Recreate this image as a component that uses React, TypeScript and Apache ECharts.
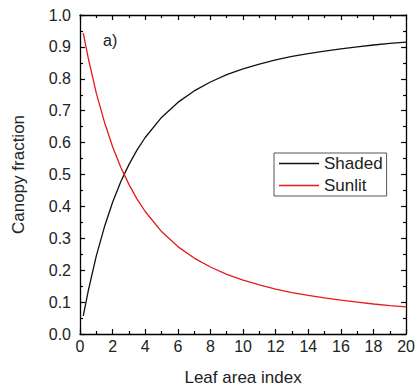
import React, { useEffect, useRef } from "react";
import * as echarts from "echarts";

const lai = [0.2, 0.5, 1, 1.5, 2, 2.5, 3, 3.5, 4, 5, 6, 7, 8, 9, 10, 11, 12, 13, 14, 15, 16, 17, 18, 19, 20];
const shaded = [0.057, 0.134, 0.245, 0.336, 0.413, 0.477, 0.531, 0.577, 0.616, 0.679, 0.726, 0.762, 0.790, 0.813, 0.831, 0.846, 0.859, 0.870, 0.879, 0.887, 0.894, 0.900, 0.906, 0.911, 0.915];
const sunlit = [0.943, 0.866, 0.755, 0.664, 0.587, 0.523, 0.469, 0.423, 0.384, 0.321, 0.274, 0.238, 0.210, 0.187, 0.169, 0.154, 0.141, 0.130, 0.121, 0.113, 0.106, 0.100, 0.094, 0.089, 0.085];
const seriesNames = ["Shaded", "Sunlit"];
const panelLabel = "a)";
const xTitle = "Leaf area index";
const yTitle = "Canopy fraction";

const FONT = "'Liberation Sans', Arial, sans-serif";
const TXT = "#222";

export default function App() {
  const ref = useRef<HTMLDivElement>(null);
  useEffect(() => {
    if (!ref.current) return;
    const chart = echarts.init(ref.current, undefined, { renderer: "svg" });
    const axisLine = { show: true, onZero: false, lineStyle: { color: "#000", width: 1.3 } };
    const axisTick = { show: true, inside: true, length: 5, lineStyle: { color: "#000", width: 1.2 } };
    const minorTick = { show: true, splitNumber: 2, length: 3, lineStyle: { color: "#000", width: 1.2 } };
    chart.setOption({
      animation: false,
      textStyle: { fontFamily: FONT },
      grid: { left: 80, right: 10, top: 15, bottom: 55, containLabel: false },
      xAxis: [
        {
          type: "value", min: 0, max: 20, interval: 2, position: "bottom",
          axisLine, axisTick, minorTick,
          splitLine: { show: false },
          axisLabel: { color: TXT, fontSize: 16, fontFamily: FONT, margin: 4 },
          name: xTitle, nameLocation: "middle", nameGap: 35,
          nameTextStyle: { color: TXT, fontSize: 17, fontFamily: FONT },
        },
        {
          type: "value", min: 0, max: 20, interval: 2, position: "top",
          axisLine, axisTick, minorTick,
          splitLine: { show: false }, axisLabel: { show: false },
        },
      ],
      yAxis: [
        {
          type: "value", min: 0, max: 1, interval: 0.1, position: "left",
          axisLine, axisTick, minorTick,
          splitLine: { show: false },
          axisLabel: { color: TXT, fontSize: 16, fontFamily: FONT, margin: 9, formatter: (v: number) => v.toFixed(1) },
          name: yTitle, nameLocation: "middle", nameGap: 53, nameRotate: 90,
          nameTextStyle: { color: TXT, fontSize: 17, fontFamily: FONT },
        },
        {
          type: "value", min: 0, max: 1, interval: 0.1, position: "right",
          axisLine, axisTick, minorTick,
          splitLine: { show: false }, axisLabel: { show: false },
        },
      ],
      legend: {
        left: 274, top: 153, orient: "vertical",
        borderColor: "#555", borderWidth: 1, borderRadius: 0,
        padding: [2, 4, 2, 5], itemGap: 5, itemWidth: 40, itemHeight: 1.5,
        icon: "rect",
        textStyle: { color: TXT, fontSize: 17, fontFamily: FONT },
        data: seriesNames,
      },
      graphic: [
        { type: "text", left: 103, top: 32, style: { text: panelLabel, fontSize: 16, fontFamily: FONT, fill: TXT } },
      ],
      series: [
        {
          name: seriesNames[0], type: "line", symbol: "none", smooth: false,
          lineStyle: { color: "#111", width: 1.3 }, itemStyle: { color: "#111" },
          data: lai.map((x, i) => [x, shaded[i]]),
        },
        {
          name: seriesNames[1], type: "line", symbol: "none", smooth: false,
          lineStyle: { color: "#e41a1c", width: 1.3 }, itemStyle: { color: "#e41a1c" },
          data: lai.map((x, i) => [x, sunlit[i]]),
        },
      ],
    });
    return () => chart.dispose();
  }, []);
  return <div ref={ref} style={{ position: "fixed", left: 0, top: 0, width: 418, height: 391, background: "#fff" }} />;
}
